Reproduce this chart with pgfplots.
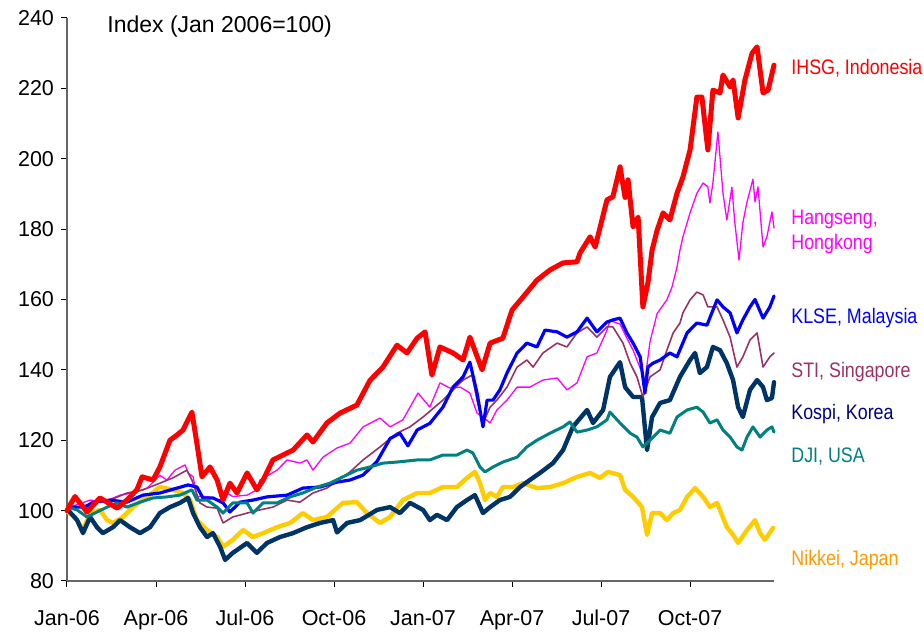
\documentclass[border=0pt]{standalone}
\usepackage{fontspec}
\setmainfont{Liberation Sans}
\newfontfamily\condfont{Liberation Sans}[FakeStretch=0.85]
\usepackage{pgfplots}
\pgfplotsset{compat=1.18}
\definecolor{cIHSG}{HTML}{FF0000}
\definecolor{cHSI}{HTML}{FF00FF}
\definecolor{cKLSE}{HTML}{0000FF}
\definecolor{cSTI}{HTML}{993366}
\definecolor{cKOSPI}{HTML}{003366}
\definecolor{cKOSPIlab}{HTML}{000080}
\definecolor{cDJI}{HTML}{008080}
\definecolor{cNIK}{HTML}{FFCC00}
\definecolor{cNIKlab}{HTML}{FF9900}
\begin{document}
\begin{tikzpicture}
\begin{axis}[
  scale only axis, width=353.5pt, height=281.5pt,
  xmin=0, xmax=23.83, ymin=80, ymax=240,
  axis x line=bottom, axis y line=left,
  axis line style={-, draw=gray!80!black, line width=0.7pt},
  xtick={0,3,6,9,12,15,18,21},
  xticklabels={Jan-06,Apr-06,Jul-06,Oct-06,Jan-07,Apr-07,Jul-07,Oct-07},
  ytick={80,100,120,140,160,180,200,220,240},
  yticklabels={80,100,120,140,160,180,200,220,240},
  tick align=outside, major tick length=3pt,
  tick style={draw=black, line width=0.5pt},
  ticklabel style={font=\fontsize{10.75}{12}\selectfont},
  xticklabel style={yshift=-8pt},
  clip=false,
  every axis plot/.append style={line join=round, line cap=round, mark=none},
]
\coordinate (sw) at (rel axis cs:0,0);
% Nikkei
\addplot[cNIK, line width=2.2pt] coordinates {(0,100)(0.03,99.6)(0.27,98.2)(0.54,94.5)(0.78,99.3)(1.11,100.2)(1.35,97.3)(1.55,96.5)(1.89,98.2)(2.22,101)(2.70,103.9)(3.13,106.7)(3.57,105.9)(3.91,105)(4.15,103)(4.38,97.3)(4.72,94.5)(5.06,92.5)(5.26,89.7)(5.59,91.7)(5.93,94.5)(6.27,92.5)(6.61,93.6)(7.08,95.3)(7.52,96.5)(7.95,99.3)(8.29,97.3)(8.76,98.2)(9.30,102.2)(9.77,102.4)(10.11,99.3)(10.55,96.5)(10.89,98.2)(11.32,103)(11.80,105)(12.23,105)(12.67,106.7)(13.14,106.7)(13.48,109.3)(13.75,111)(13.92,107.8)(14.09,103)(14.26,105)(14.49,103.9)(14.69,106.7)(15.03,106.7)(15.37,107.8)(15.84,106.4)(16.28,106.7)(16.72,107.8)(17.19,109.6)(17.63,110.7)(17.96,109.3)(18.23,111)(18.64,110.1)(18.81,105.9)(19.08,103.9)(19.38,101)(19.55,93.1)(19.72,99.3)(19.99,99.3)(20.22,97.3)(20.43,99.3)(20.66,100.2)(20.90,103.9)(21.17,106.4)(21.44,103.9)(21.67,101)(21.91,102.2)(22.24,95.3)(22.45,93.1)(22.62,90.8)(22.92,94.5)(23.19,97.3)(23.36,93.6)(23.52,91.7)(23.80,95.1)};
% Kospi
\addplot[cKOSPI, line width=2.2pt] coordinates {(0,100)(0.03,100.2)(0.34,97.3)(0.54,93.6)(0.78,98.2)(1.01,95.3)(1.21,93.6)(1.55,95.3)(1.79,97.3)(2.12,95.3)(2.46,93.6)(2.80,95.3)(3.13,99.3)(3.47,101)(3.81,102.2)(4.08,103.6)(4.25,99.3)(4.48,95.3)(4.72,92.5)(4.92,93.6)(5.16,89.7)(5.33,86)(5.59,88)(6.07,90.8)(6.40,88)(6.74,90.8)(7.18,92.5)(7.62,93.6)(8.09,95.3)(8.53,96.5)(8.97,97.3)(9.10,93.8)(9.44,96.5)(9.88,97.3)(10.45,100.2)(10.89,101)(11.22,99.3)(11.56,102.2)(12.00,100.2)(12.23,97.3)(12.47,98.8)(12.81,97.3)(13.14,101)(13.48,103)(13.75,104.4)(14.02,99.3)(14.26,101)(14.59,103)(14.93,103.9)(15.27,106.7)(15.60,108.7)(15.94,110.7)(16.38,113.5)(16.72,117.2)(17.05,123.8)(17.53,128.6)(17.73,124.9)(18.07,128.6)(18.30,138)(18.64,142.2)(18.81,135.1)(19.08,132.3)(19.38,132.3)(19.55,117.2)(19.72,126.6)(19.99,130.6)(20.32,131.4)(20.66,138)(21.00,142.8)(21.17,144.8)(21.33,139.1)(21.57,140.8)(21.77,146.5)(22.01,145.6)(22.24,141.9)(22.45,137.1)(22.62,129.4)(22.78,126.6)(23.02,134.3)(23.26,137.1)(23.46,135.1)(23.59,131.4)(23.76,132)(23.83,136.5)};
% Hangseng
\addplot[cHSI, line width=0.65pt] coordinates {(0,100)(0.10,101)(0.44,102)(0.78,103)(1.21,102.4)(1.79,104.4)(2.22,105)(2.70,106.4)(3.13,110)(3.37,108.7)(3.64,111.5)(3.98,113)(4.08,110.7)(4.25,109.6)(4.38,104)(4.72,104)(5.16,103)(5.39,105)(5.59,104)(6.07,104.4)(6.40,105.9)(6.50,108.7)(7.08,111.5)(7.42,114.4)(7.85,113.5)(8.09,114.4)(8.29,111.5)(8.63,115.2)(9.10,117.8)(9.54,119.2)(9.98,123.8)(10.55,126.3)(10.89,123.8)(11.32,125.8)(11.83,133.4)(12.23,129.4)(12.57,136.3)(12.91,134.8)(13.25,135.1)(13.58,133.4)(13.82,127.7)(14.02,126.6)(14.26,124.9)(14.49,128.6)(14.83,131.4)(15.17,135.1)(15.60,135.1)(16.04,137.1)(16.52,137.7)(16.85,134.3)(17.19,136.3)(17.53,143.7)(17.86,144.8)(18.20,151.3)(18.30,154)(18.64,153)(18.87,149)(19.08,145.6)(19.48,137)(19.65,148)(19.89,156)(20.22,159.9)(20.39,163.5)(20.56,169.2)(20.66,174)(20.76,177.8)(21.00,184.6)(21.23,190.2)(21.44,193.1)(21.60,192)(21.67,187.4)(21.77,193.1)(21.94,207.6)(22.11,190.2)(22.24,182.6)(22.41,191.9)(22.51,181.8)(22.65,171.2)(22.78,181.8)(22.92,187.7)(23.12,194.2)(23.19,187.7)(23.29,192)(23.46,174.9)(23.59,177.8)(23.76,184.9)(23.83,180.3)};
% STI
\addplot[cSTI, line width=0.8pt] coordinates {(0,100)(0.10,101)(0.44,101)(0.88,102.2)(1.45,103)(2.02,105)(2.56,105.9)(3.13,107.8)(3.57,109.3)(4.04,111.5)(4.21,108.7)(4.48,102.2)(4.72,101)(5.06,100.7)(5.26,96.5)(5.59,98.2)(6.07,99.3)(6.50,100.2)(6.94,101)(7.42,103)(7.85,102.4)(8.29,105)(8.76,106.4)(9.20,109)(9.54,111)(9.98,114.4)(10.55,118.1)(11.12,122)(11.56,123.8)(12.00,126.6)(12.67,131.4)(13.01,134.3)(13.35,137.1)(13.65,138.5)(13.82,131.4)(14.02,124.9)(14.26,129.4)(14.49,131.4)(14.83,135.1)(15.17,140.8)(15.50,142.8)(15.71,140.8)(16.04,144.8)(16.52,147.6)(16.85,146.5)(17.19,150.5)(17.53,152.2)(17.86,149.3)(18.20,152.2)(18.40,152.2)(18.74,147.6)(18.98,141.9)(19.21,138)(19.41,132.3)(19.65,138)(19.99,140)(20.22,145.6)(20.43,150.5)(20.66,153.3)(20.76,156.2)(21.00,159.9)(21.23,162.1)(21.44,161.3)(21.60,157.9)(21.91,157.9)(22.11,154.2)(22.35,149.3)(22.58,140.8)(22.78,143.7)(23.02,148.5)(23.26,150.5)(23.46,140.8)(23.69,143.7)(23.83,144.8)};
% KLSE
\addplot[cKLSE, line width=1.6pt] coordinates {(0,100)(0.10,101)(0.61,101)(0.88,102.4)(1.45,103)(2.02,102.4)(2.56,104.4)(3.13,105)(3.71,106.4)(4.08,107.3)(4.38,106.7)(4.58,103.6)(4.92,103.6)(5.26,102.2)(5.49,99.6)(5.83,102.4)(6.27,103)(6.74,103.9)(7.42,104.4)(7.95,106.4)(8.53,106.7)(9.10,108.1)(9.54,108.7)(9.98,110.1)(10.45,114)(10.89,120.5)(11.22,122)(11.49,118.4)(11.80,122.9)(12.23,124.8)(12.67,129.4)(13.01,135.1)(13.35,138)(13.58,142.2)(13.82,133.4)(14.02,123.8)(14.16,131.4)(14.36,131.4)(14.59,134.3)(14.83,139.1)(15.17,144.8)(15.50,147.6)(15.84,146.5)(16.11,151.3)(16.52,150.8)(16.85,149.3)(17.19,150.8)(17.53,154.7)(17.86,150.8)(18.20,153.6)(18.40,154.2)(18.64,154.7)(18.87,150.5)(19.08,147.6)(19.32,143.7)(19.48,133.4)(19.58,140.8)(19.75,141.9)(19.99,142.8)(20.32,144.8)(20.56,143.7)(20.90,150.5)(21.23,153.3)(21.57,152.7)(21.91,159.9)(22.11,157.9)(22.35,156.2)(22.58,150.5)(22.78,154.2)(23.02,157.9)(23.19,160)(23.46,154.7)(23.69,157.9)(23.83,161)};
% DJI
\addplot[cDJI, line width=1.5pt] coordinates {(0,100)(0.03,101)(0.34,100.2)(0.67,98.2)(1.01,99.6)(1.35,101)(1.69,102.2)(2.02,101)(2.46,102.4)(2.90,103.6)(3.37,103.9)(3.81,104.4)(4.21,105.9)(4.38,103)(4.72,103)(5.06,101)(5.26,99.3)(5.59,102.2)(6.07,102.2)(6.27,99.3)(6.61,102.2)(7.08,102.2)(7.52,103.9)(7.95,105)(8.43,106.7)(8.86,107.8)(9.30,109.6)(9.77,111.5)(10.21,112.4)(10.65,113.5)(11.12,113.8)(11.80,114.4)(12.23,114.4)(12.67,115.8)(13.14,115.8)(13.48,117.2)(13.68,116.4)(13.92,112.4)(14.09,111)(14.36,112.4)(14.69,113.8)(15.17,115.2)(15.50,118.1)(15.84,120)(16.28,122)(16.72,123.8)(16.95,125.2)(17.19,122.3)(17.53,122.9)(17.86,123.8)(18.20,125.8)(18.30,128)(18.64,124.9)(18.98,122)(19.21,120.9)(19.41,118.1)(19.65,120)(19.99,122.9)(20.32,122)(20.56,126.6)(20.90,128.6)(21.23,129.4)(21.44,128)(21.67,124.9)(21.91,125.8)(22.11,122.9)(22.35,120.9)(22.58,118.1)(22.75,117.2)(22.92,120.9)(23.12,123.8)(23.36,120.9)(23.59,122.9)(23.76,123.8)(23.83,122.3)};
% IHSG
\addplot[cIHSG, line width=2.5pt] coordinates {(0,100)(0.10,101.6)(0.27,104)(0.67,99.6)(1.11,103.6)(1.69,100.7)(2.02,103)(2.36,106)(2.53,109.6)(2.90,108.7)(3.13,112.4)(3.47,120)(3.71,121.5)(3.91,122.9)(4.21,128)(4.38,119)(4.55,109.6)(4.82,112.4)(5.06,108.7)(5.26,103)(5.49,107.8)(5.73,105)(6.07,110.7)(6.40,105.9)(6.61,108.7)(6.94,114.4)(7.42,116.4)(7.62,117.2)(8.09,121.5)(8.29,119.5)(8.76,124.9)(9.20,127.7)(9.77,130)(10.21,137)(10.65,140.8)(11.12,147)(11.46,144.8)(11.80,149)(12.07,150.8)(12.30,138.5)(12.57,146.5)(13.01,144.8)(13.35,142.8)(13.58,149.3)(13.99,140)(14.26,147.6)(14.69,149)(15.00,157)(15.37,160.7)(15.84,165.5)(16.28,168.4)(16.72,170.4)(17.19,170.7)(17.29,173.2)(17.63,177.8)(17.80,174.9)(18.20,188.3)(18.40,189.2)(18.64,197.7)(18.81,189)(18.91,194)(19.08,180.6)(19.25,183.4)(19.41,157.9)(19.58,164.7)(19.72,174)(19.89,179.7)(20.09,184.6)(20.32,182.6)(20.56,190.2)(20.76,194.8)(21.00,202.5)(21.23,217.5)(21.40,217.5)(21.60,202.5)(21.77,219.5)(22.01,218.7)(22.11,223.8)(22.35,220.4)(22.45,222.4)(22.62,211.6)(22.85,222.4)(23.09,230)(23.26,231.8)(23.46,218.7)(23.63,219.5)(23.83,226.6)};
% title and series labels
\node[anchor=base west, inner sep=0pt, xshift=20pt, font=\fontsize{11.5}{13}\selectfont] at (axis cs:0,236) {Index (Jan 2006=100)};
\tikzset{lab/.style={anchor=base west, inner sep=0pt, xshift=8.5pt, font=\condfont\fontsize{10.5}{12}\selectfont}}
\node[lab, text=cIHSG] at (axis cs:23.83,223.8) {IHSG, Indonesia};
\node[lab, text=cHSI] at (axis cs:23.83,181.2) {Hangseng,};
\node[lab, text=cHSI] at (axis cs:23.83,174.1) {Hongkong};
\node[lab, text=cKLSE] at (axis cs:23.83,153.3) {KLSE, Malaysia};
\node[lab, text=cSTI] at (axis cs:23.83,137.7) {STI, Singapore};
\node[lab, text=cKOSPIlab] at (axis cs:23.83,125.8) {Kospi, Korea};
\node[lab, text=cDJI] at (axis cs:23.83,113.8) {DJI, USA};
\node[lab, text=cNIKlab] at (axis cs:23.83,84.5) {Nikkei, Japan};
\end{axis}
\pgfresetboundingbox
\path (sw) ++(-33.5pt,-27pt) rectangle ++(462pt,317.5pt);
\end{tikzpicture}
\end{document}
